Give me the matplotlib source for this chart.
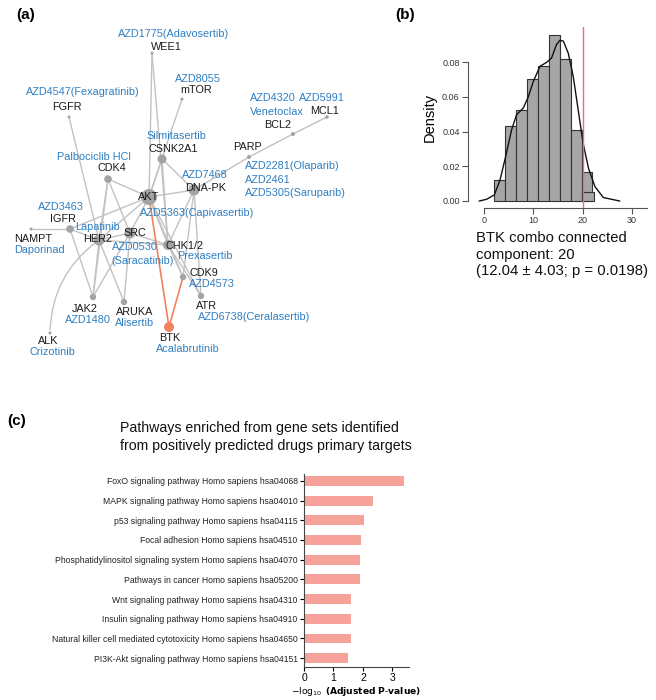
import matplotlib
matplotlib.use("Agg")
import matplotlib.pyplot as plt
import numpy as np
from matplotlib.patches import FancyArrowPatch

plt.rcParams['font.family'] = ['Liberation Sans', 'DejaVu Sans']

# ---------------- Panel (a) network data ----------------
node_names = ["AKT", "WEE1", "mTOR", "FGFR", "CSNK2A1", "CDK4", "DNA-PK", "PARP", "BCL2", "MCL1",
              "IGFR", "NAMPT", "HER2", "SRC", "CHK1/2", "CDK9", "ATR", "JAK2", "ARUKA", "BTK", "ALK"]
node_x = [149, 152, 182, 69, 162, 108, 194, 249, 293, 327, 70, 31, 99, 130, 168, 183, 201, 93, 124, 169, 50]
node_y = [197, 53, 99, 117, 159, 179, 190, 157, 134, 117, 229, 229, 240, 233, 245, 277, 296, 297, 302, 327, 333]
node_radius = [8, 1.5, 1.5, 1.5, 4.5, 3.8, 5.5, 2, 2, 1.8, 3.8, 1.5, 5.5, 5.5, 5, 3.2, 3.2, 3.2, 3.2, 5, 1.5]

edges = [("AKT", "WEE1"), ("AKT", "mTOR"), ("AKT", "CSNK2A1"), ("AKT", "CDK4"), ("AKT", "DNA-PK"),
         ("AKT", "IGFR"), ("AKT", "HER2"), ("AKT", "SRC"), ("AKT", "CHK1/2"), ("AKT", "CDK9"),
         ("AKT", "ATR"), ("WEE1", "CHK1/2"), ("CSNK2A1", "DNA-PK"), ("CSNK2A1", "CHK1/2"),
         ("CDK4", "HER2"), ("CDK4", "SRC"), ("CDK4", "JAK2"), ("FGFR", "HER2"), ("DNA-PK", "PARP"),
         ("DNA-PK", "CHK1/2"), ("DNA-PK", "ATR"), ("DNA-PK", "CDK9"), ("PARP", "BCL2"), ("BCL2", "MCL1"),
         ("IGFR", "NAMPT"), ("IGFR", "HER2"), ("IGFR", "JAK2"), ("HER2", "SRC"), ("HER2", "JAK2"),
         ("HER2", "ARUKA"), ("HER2", "ALK"), ("HER2", "CHK1/2"), ("SRC", "ARUKA"), ("SRC", "JAK2"),
         ("SRC", "CHK1/2"), ("CHK1/2", "CDK9"), ("CHK1/2", "ATR")]
highlight_edges = [("AKT", "BTK"), ("CDK9", "BTK")]

label_text = ["AZD1775(Adavosertib)", "WEE1", "AZD8055", "mTOR", "AZD4547(Fexagratinib)", "FGFR",
              "AZD4320", "AZD5991", "MCL1", "Venetoclax", "BCL2", "Silmitasertib", "CSNK2A1", "PARP",
              "Palbociclib HCl", "CDK4", "AZD2281(Olaparib)", "AZD2461", "AZD5305(Saruparib)",
              "AZD7468", "DNA-PK", "AKT", "AZD5363(Capivasertib)", "AZD3463", "IGFR", "Lapatinib",
              "NAMPT", "Daporinad", "HER2", "SRC", "AZD0530", "(Saracatinib)", "CHK1/2", "Prexasertib",
              "CDK9", "AZD4573", "JAK2", "AZD1480", "ARUKA", "Alisertib", "ATR", "AZD6738(Ceralasertib)",
              "BTK", "Acalabrutinib", "ALK", "Crizotinib"]
label_x = [174, 166, 198, 196, 83, 67, 273, 322, 325, 277, 278, 176, 173, 248, 94, 112, 245, 245, 245,
           205, 206, 149, 197, 61, 63, 98, 33, 39, 98, 135, 135, 143, 184, 205, 204, 212, 85, 88, 135,
           135, 206, 254, 170, 188, 48, 52]
label_y = [34, 47, 79, 90, 92, 107, 98, 98, 111, 112, 125, 136, 149, 147, 157, 168, 166, 180, 193,
           175, 188, 197, 213, 207, 219, 227, 239, 250, 239, 233, 247, 261, 246, 256, 273, 284, 309,
           320, 312, 323, 306, 317, 338, 349, 341, 352]
label_kind = ["d", "g", "d", "g", "d", "g", "d", "d", "g", "d", "g", "d", "g", "g", "d", "g", "d", "d", "d",
              "d", "g", "g", "d", "d", "g", "d", "g", "d", "g", "g", "d", "d", "g", "d", "g", "d", "g", "d",
              "g", "d", "g", "d", "g", "d", "g", "d"]
label_ha = ["center"] * len(label_text)
for i in (16, 17, 18):
    label_ha[i] = "left"

# ---------------- Panel (b) histogram data ----------------
bin_edges = [2.0, 4.22, 6.44, 8.67, 10.89, 13.11, 15.33, 17.56, 19.78, 22.0]
bin_density = [0.012, 0.043, 0.0525, 0.070, 0.0775, 0.0958, 0.0817, 0.0406, 0.0165]
extra_bar_left, extra_bar_right, extra_bar_height = 19.78, 22.4, 0.0054
kde_x = [-0.95, 0.54, 2.09, 3.24, 4.39, 5.6, 6.6, 7.97, 8.99, 10.0, 11.35, 12.7, 13.7, 14.7, 15.4,
         16.1, 17.1, 18.1, 19.1, 20.1, 21.2, 22.5, 24.2, 27.5]
kde_y = [0.0, 0.001, 0.0035, 0.012, 0.0256, 0.041, 0.0496, 0.0535, 0.060, 0.0688, 0.0775, 0.0798,
         0.0823, 0.090, 0.0925, 0.092, 0.085, 0.0717, 0.0525, 0.0333, 0.0188, 0.0083, 0.002, 0.0]
observed_value = 20
hist_xticks = [0, 10, 20, 30]
hist_yticks = [0.00, 0.02, 0.04, 0.06, 0.08]

# ---------------- Panel (c) bar data ----------------
pathways = ["FoxO signaling pathway Homo sapiens hsa04068",
            "MAPK signaling pathway Homo sapiens hsa04010",
            "p53 signaling pathway Homo sapiens hsa04115",
            "Focal adhesion Homo sapiens hsa04510",
            "Phosphatidylinositol signaling system Homo sapiens hsa04070",
            "Pathways in cancer Homo sapiens hsa05200",
            "Wnt signaling pathway Homo sapiens hsa04310",
            "Insulin signaling pathway Homo sapiens hsa04910",
            "Natural killer cell mediated cytotoxicity Homo sapiens hsa04650",
            "PI3K-Akt signaling pathway Homo sapiens hsa04151"]
neglog_p = [3.40, 2.35, 2.03, 1.92, 1.89, 1.89, 1.60, 1.60, 1.60, 1.49]
bar_xticks = [0, 1, 2, 3]

# ======================================================
W, H = 656, 700
fig = plt.figure(figsize=(W / 100, H / 100), dpi=100)

BLUE = "#2e7fc2"
GENE = "#1a1a1a"
EDGE = "#c2c2c2"
NODE = "#a3a3a3"
ORANGE = "#f2825c"

axa = fig.add_axes([0, 0, 1, 1])
axa.set_xlim(0, W)
axa.set_ylim(H, 0)
axa.axis("off")

pos = {n: (x, y) for n, x, y in zip(node_names, node_x, node_y)}
for a, b in edges:
    if (a, b) == ("HER2", "ALK"):
        p = FancyArrowPatch(pos[a], pos[b], connectionstyle="arc3,rad=0.25", arrowstyle="-",
                            color=EDGE, lw=1.0, zorder=1)
        axa.add_patch(p)
    else:
        axa.plot([pos[a][0], pos[b][0]], [pos[a][1], pos[b][1]], color=EDGE, lw=1.0, zorder=1)
for a, b in highlight_edges:
    axa.plot([pos[a][0], pos[b][0]], [pos[a][1], pos[b][1]], color=ORANGE, lw=1.2, zorder=2)

sizes = [(2 * r * 0.72) ** 2 for r in node_radius]
colors = [ORANGE if n == "BTK" else NODE for n in node_names]
axa.scatter(node_x, node_y, s=sizes, c=colors, zorder=3, linewidths=0)

for t, x, y, k, ha in zip(label_text, label_x, label_y, label_kind, label_ha):
    axa.text(x, y, t, color=BLUE if k == "d" else GENE, fontsize=7.8, ha=ha, va="center", zorder=4)

axa.text(16, 15, "(a)", fontsize=11, fontweight="bold", ha="left", va="center")
axa.text(395, 15, "(b)", fontsize=11, fontweight="bold", ha="left", va="center")
axa.text(7, 421, "(c)", fontsize=11, fontweight="bold", ha="left", va="center")

# ---------------- Panel (b) ----------------
px_per_u = 4.93
x0_px = 484
py_per_d = 1737.5
y0_px = 201
xl = (-3.25, 34)
yl = (-0.004, 0.1)
left_px = x0_px + xl[0] * px_per_u
right_px = x0_px + xl[1] * px_per_u
bot_px = y0_px - yl[0] * py_per_d
top_px = y0_px - yl[1] * py_per_d
axb = fig.add_axes([left_px / W, (H - bot_px) / H, (right_px - left_px) / W, (bot_px - top_px) / H])
axb.set_xlim(*xl)
axb.set_ylim(*yl)
widths = np.diff(bin_edges)
axb.bar(bin_edges[:-1], bin_density, width=widths, align="edge", color="#a6a6a6",
        edgecolor="#333333", linewidth=0.8, zorder=2)
axb.bar([extra_bar_left], [extra_bar_height], width=extra_bar_right - extra_bar_left, align="edge",
        color="#a6a6a6", edgecolor="#333333", linewidth=0.8, zorder=2)
axb.plot(kde_x, kde_y, color="#111111", lw=1.0, zorder=3)
axb.axvline(observed_value, color="#e8707a", lw=1.0, zorder=4)
for s in ("top", "right"):
    axb.spines[s].set_visible(False)
axb.spines["left"].set_bounds(0, 0.08)
axb.spines["bottom"].set_bounds(0, 33)
for s in ("left", "bottom"):
    axb.spines[s].set_color("#555555")
    axb.spines[s].set_linewidth(0.8)
axb.set_xticks(hist_xticks)
axb.set_yticks(hist_yticks)
axb.set_yticklabels([f"{v:.2f}" for v in hist_yticks])
axb.tick_params(labelsize=6.5, length=4, width=0.8, colors="#555555", labelcolor="#333333", pad=2)
axb.set_ylabel("Density", fontsize=10.5, labelpad=4)
axb.patch.set_alpha(0)

axa.text(476, 231, "BTK combo connected\ncomponent: 20\n(12.04 \u00b1 4.03; p = 0.0198)",
         fontsize=10.7, ha="left", va="top", linespacing=1.25, color="#111111")

# ---------------- Panel (c) ----------------
cl, cr, ctop, cbot = 304, 409, 474, 667
axc = fig.add_axes([cl / W, (H - cbot) / H, (cr - cl) / W, (cbot - ctop) / H])
ypos = np.arange(len(pathways))
axc.barh(ypos, neglog_p, height=0.5, color="#f6a29b")
axc.set_ylim(9.45, -0.35)
axc.set_xlim(0, 3.56)
axc.set_yticks(ypos)
axc.set_yticklabels(pathways, fontsize=6.2, color="#222222")
axc.set_xticks(bar_xticks)
axc.set_xticklabels([str(v) for v in bar_xticks], fontsize=7.5)
for s in ("top", "right"):
    axc.spines[s].set_visible(False)
for s in ("left", "bottom"):
    axc.spines[s].set_color("#444444")
    axc.spines[s].set_linewidth(0.8)
axc.tick_params(length=3, width=0.8, pad=1.5)
axc.set_xlabel(r"$-\log_{10}$ $\bf{(Adjusted\ P\text{-}value)}$", fontsize=6.6, labelpad=1)
axc.patch.set_alpha(0)

axa.text(120, 437, "Pathways enriched from gene sets identified\nfrom positively predicted drugs primary targets",
         fontsize=10.2, ha="left", va="center", linespacing=1.35, color="#111111")

fig.savefig("out.png", dpi=100)
